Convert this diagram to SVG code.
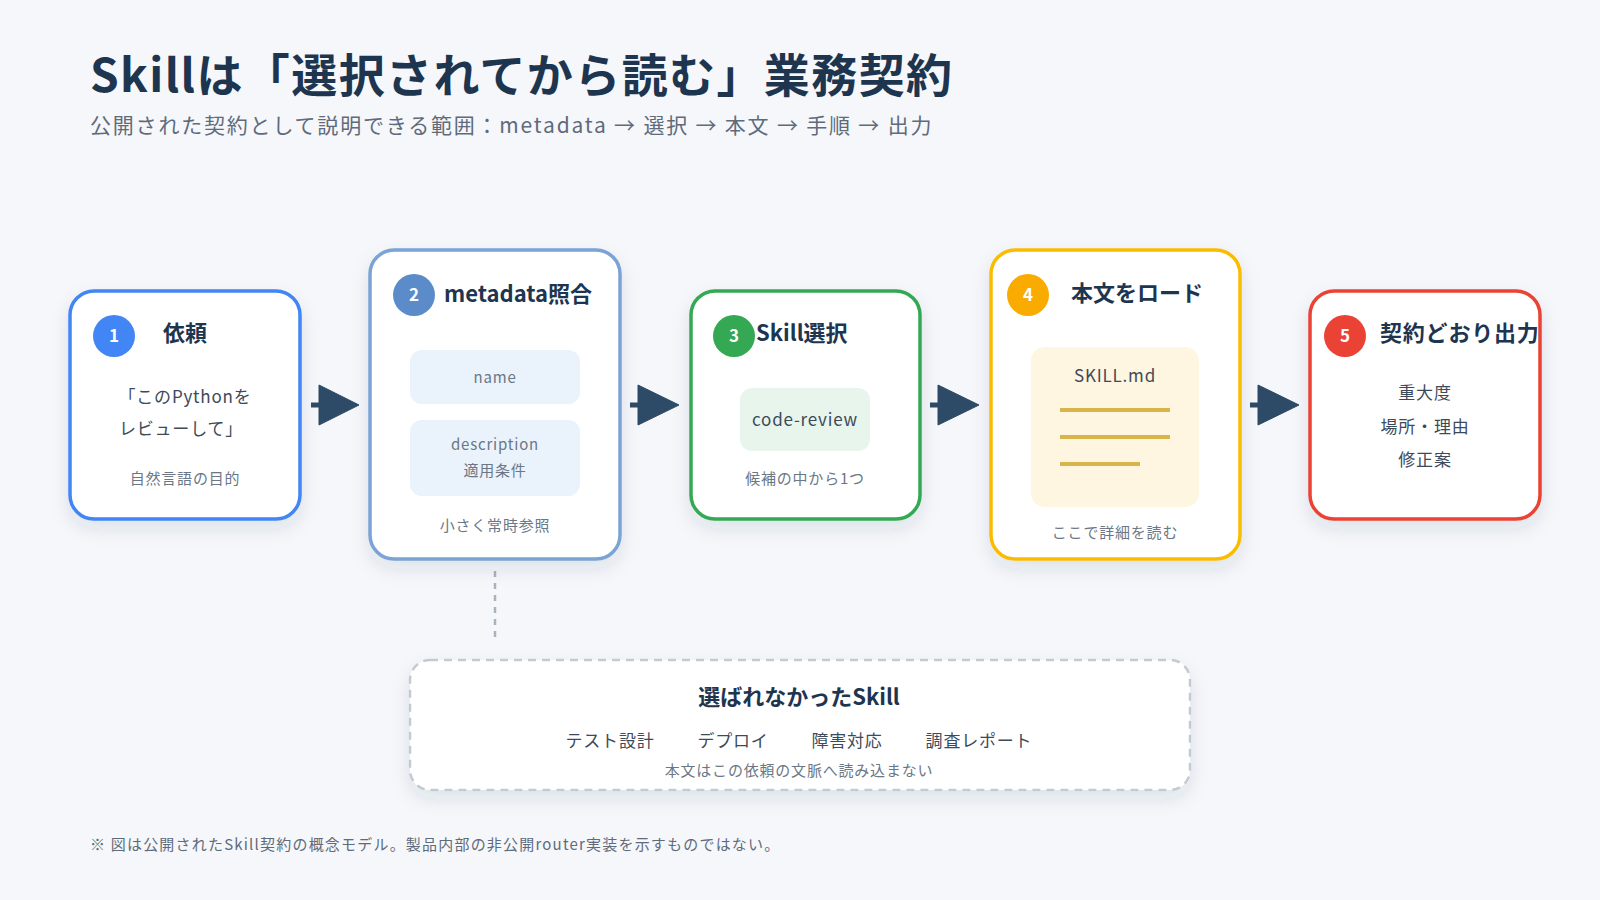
<svg xmlns="http://www.w3.org/2000/svg" width="1600" height="900" viewBox="0 0 1600 900">
<defs>
<filter id="sh" x="-20%" y="-20%" width="140%" height="150%"><feDropShadow dx="0" dy="8" stdDeviation="9" flood-color="#1e3550" flood-opacity="0.10"/></filter>
<style>
text{font-family:"Noto Sans CJK JP","Noto Sans",sans-serif;}
.box{fill:#fff;stroke-width:3.5;filter:url(#sh);}
.ttl{font-size:22px;font-weight:700;fill:#1e3550;}
.num{font-size:17px;font-weight:700;fill:#fff;text-anchor:middle;}
.body{font-size:17px;fill:#3d4a5a;text-anchor:middle;letter-spacing:0.8px;}
.note{font-size:15px;fill:#6b7785;text-anchor:middle;letter-spacing:0.8px;}
.ar{fill:#2d4a66;stroke:#2d4a66;}
</style>
</defs>
<rect width="1600" height="900" fill="#f5f7fa"/>
<text x="90" y="92" font-size="46" font-weight="700" fill="#1e3550" letter-spacing="1.4">Skillは「選択されてから読む」業務契約</text>
<text x="90" y="133" font-size="21" fill="#5f6b7a" letter-spacing="1.8">公開された契約として説明できる範囲：metadata → 選択 → 本文 → 手順 → 出力</text>

<g id="connectors">
<g class="ar"><line x1="311" y1="405" x2="322" y2="405" stroke-width="5"/><polygon points="319,385 359,405 319,425"/></g>
<g class="ar"><line x1="630" y1="405" x2="641" y2="405" stroke-width="5"/><polygon points="638,385 679,405 638,425"/></g>
<g class="ar"><line x1="930" y1="405" x2="941" y2="405" stroke-width="5"/><polygon points="938,385 979,405 938,425"/></g>
<g class="ar"><line x1="1250" y1="405" x2="1261" y2="405" stroke-width="5"/><polygon points="1258,385 1299,405 1258,425"/></g>
<line x1="495" y1="571" x2="495" y2="640" stroke="#a9b2bd" stroke-width="2.5" stroke-dasharray="6,6"/>
</g>

<g id="n1">
<rect class="box" x="70" y="291" width="230" height="228" rx="24" stroke="#4285f4"/>
<circle cx="114" cy="336" r="21" fill="#4285f4"/><text class="num" x="114" y="342">1</text>
<text class="ttl" x="185" y="341" text-anchor="middle">依頼</text>
<text class="body" x="185" y="403">「このPythonを</text>
<text class="body" x="181" y="435">レビューして」</text>
<text class="note" x="185" y="484">自然言語の目的</text>
</g>

<g id="n2">
<rect class="box" x="370" y="250" width="250" height="309" rx="24" stroke="#7ba3d6"/>
<circle cx="414" cy="295" r="21" fill="#5b8cc9"/><text class="num" x="414" y="301">2</text>
<text class="ttl" x="444" y="302">metadata照合</text>
<rect x="410" y="350" width="170" height="54" rx="12" fill="#eaf2fc"/>
<text class="note" x="495" y="383" fill="#4a5868">name</text>
<rect x="410" y="420" width="170" height="76" rx="12" fill="#eaf2fc"/>
<text class="note" x="495" y="450">description</text>
<text class="note" x="495" y="476">適用条件</text>
<text class="note" x="495" y="531">小さく常時参照</text>
</g>

<g id="n3">
<rect class="box" x="691" y="291" width="229" height="228" rx="24" stroke="#34a853"/>
<circle cx="734" cy="336" r="21" fill="#34a853"/><text class="num" x="734" y="342">3</text>
<text class="ttl" x="756" y="341">Skill選択</text>
<rect x="740" y="388" width="130" height="63" rx="12" fill="#e8f5ec"/>
<text class="body" x="805" y="426">code-review</text>
<text class="note" x="805" y="484">候補の中から1つ</text>
</g>

<g id="n4">
<rect class="box" x="991" y="250" width="249" height="309" rx="24" stroke="#fbbc05"/>
<circle cx="1028" cy="295" r="21" fill="#f9ab00"/><text class="num" x="1028" y="301">4</text>
<text class="ttl" x="1071" y="301">本文をロード</text>
<rect x="1031" y="347" width="168" height="160" rx="14" fill="#fef6e0"/>
<text class="body" x="1115" y="382">SKILL.md</text>
<g stroke="#d9b44a" stroke-width="4"><line x1="1060" y1="410" x2="1170" y2="410"/><line x1="1060" y1="437" x2="1170" y2="437"/><line x1="1060" y1="464" x2="1140" y2="464"/></g>
<text class="note" x="1115" y="538">ここで詳細を読む</text>
</g>

<g id="n5">
<rect class="box" x="1310" y="291" width="230" height="228" rx="24" stroke="#ea4335"/>
<circle cx="1345" cy="336" r="21" fill="#ea4335"/><text class="num" x="1345" y="342">5</text>
<text class="ttl" x="1380" y="341" letter-spacing="0.8">契約どおり出力</text>
<text class="body" x="1425" y="399">重大度</text>
<text class="body" x="1425" y="433">場所・理由</text>
<text class="body" x="1425" y="466">修正案</text>
</g>

<g id="n6">
<rect x="410" y="660" width="780" height="130" rx="20" fill="#fff" stroke="#c4cad2" stroke-width="2.5" stroke-dasharray="8,6" filter="url(#sh)"/>
<text class="ttl" x="799" y="705" text-anchor="middle">選ばれなかったSkill</text>
<text class="body" x="610" y="747">テスト設計</text>
<text class="body" x="733" y="747">デプロイ</text>
<text class="body" x="847" y="747">障害対応</text>
<text class="body" x="979" y="747">調査レポート</text>
<text class="note" x="799" y="776">本文はこの依頼の文脈へ読み込まない</text>
</g>

<text x="90" y="850" font-size="15" fill="#5f6b7a" letter-spacing="1.2">※ 図は公開されたSkill契約の概念モデル。製品内部の非公開router実装を示すものではない。</text>
</svg>
